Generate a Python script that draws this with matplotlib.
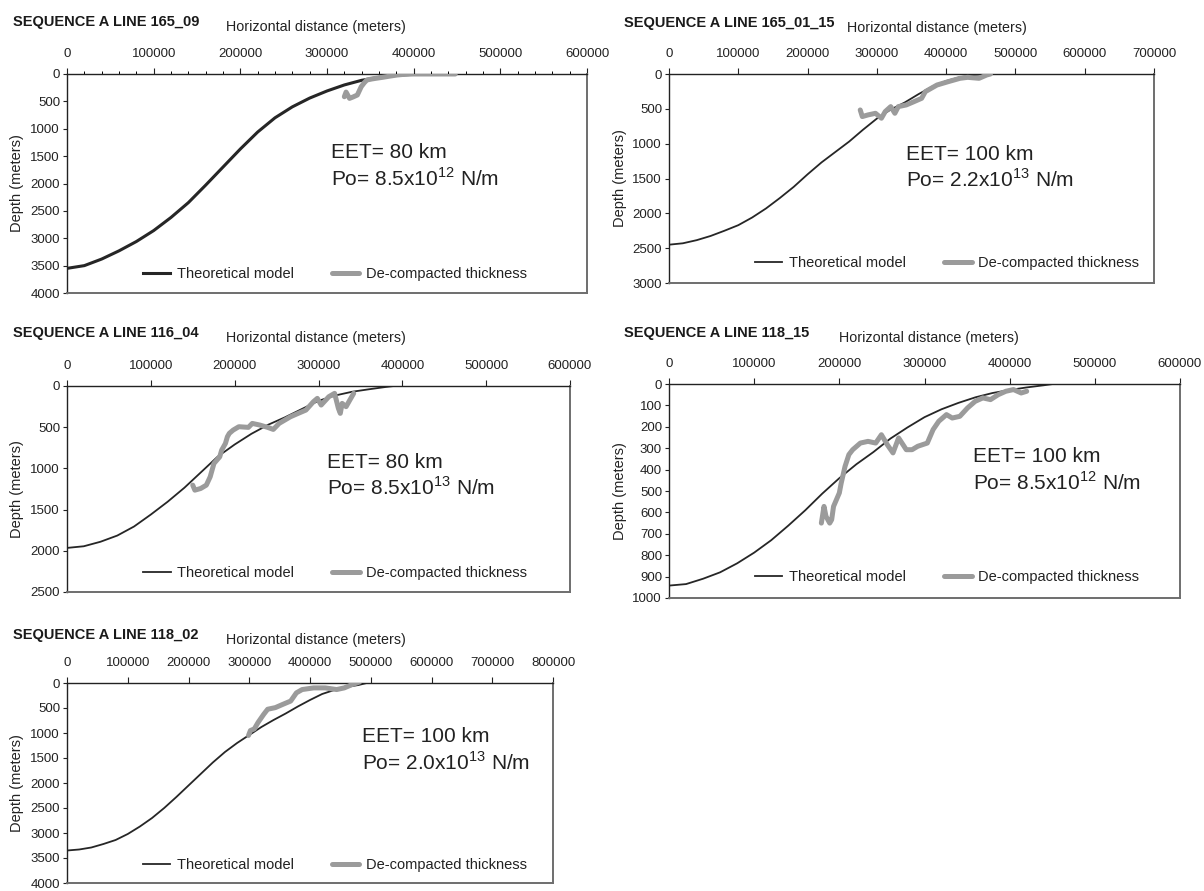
import numpy as np
import matplotlib
matplotlib.use("Agg")
import matplotlib.pyplot as plt
from matplotlib.ticker import MultipleLocator

plt.rcParams['font.family'] = ['Liberation Sans Narrow', 'Liberation Sans', 'DejaVu Sans']
plt.rcParams['mathtext.fontset'] = 'custom'
plt.rcParams['mathtext.rm'] = 'Liberation Sans'

NARROW = ['Liberation Sans Narrow', 'Liberation Sans', 'DejaVu Sans']
REGULAR = ['Liberation Sans', 'DejaVu Sans']

# ---- panel 1: line 165_09
p1_theo_x = [0, 20000, 40000, 60000, 80000, 100000, 120000, 140000, 160000, 180000, 200000,
             220000, 240000, 260000, 280000, 300000, 320000, 340000, 360000, 380000, 400000,
             420000, 440000]
p1_theo_d = [3550, 3500, 3380, 3230, 3060, 2860, 2620, 2350, 2030, 1700, 1370,
             1060, 800, 600, 440, 310, 200, 115, 60, 25, 5, -10, -15]
p1_obs_x = [320000, 322000, 326000, 330000, 335000, 339500, 343000, 346000, 352000, 358000,
            364000, 372000, 381000, 390000, 400000, 420000, 435000, 448000]
p1_obs_d = [415, 330, 445, 420, 384, 232, 160, 110, 90, 75, 61, 40, 18, 5, 0, 0, 0, 0]

# ---- panel 2: line 165_01_15
p2_theo_x = [0, 20000, 40000, 60000, 80000, 100000, 120000, 140000, 160000, 180000, 200000,
             220000, 240000, 260000, 280000, 300000, 320000, 340000, 360000, 380000, 400000,
             420000, 440000, 460000, 480000, 500000, 520000]
p2_theo_d = [2450, 2430, 2385, 2325, 2250, 2170, 2060, 1930, 1780, 1620, 1440,
             1270, 1120, 970, 800, 640, 510, 410, 290, 180, 100,
             45, 15, -5, -20, -28, -30]
p2_obs_x = [276000, 279000, 287000, 298000, 306600, 312000, 320000, 326000, 331000, 342500,
            353600, 364600, 370000, 386800, 403000, 420000, 431000, 447500, 458600, 464000]
p2_obs_d = [516, 611, 588, 564, 635, 540, 468, 564, 468, 444,
            397, 349, 253, 158, 110, 62, 48, 62, 14, 0]

# ---- panel 3: line 116_04
p3_theo_x = [0, 20000, 40000, 60000, 80000, 100000, 120000, 140000, 160000, 180000, 200000,
             220000, 240000, 260000, 280000, 300000, 320000, 340000, 360000, 380000, 400000,
             420000, 440000, 455000]
p3_theo_d = [1965, 1945, 1890, 1815, 1705, 1560, 1405, 1235, 1045, 855, 710,
             580, 470, 380, 280, 180, 115, 70, 40, 12, -12, -30, -40, -40]
p3_obs_x = [150000, 152500, 159400, 166200, 170800, 175300, 182200, 184500, 189000, 191300,
            193600, 198200, 205000, 216400, 221000, 230000, 239300, 246100, 253000, 266600,
            275800, 285000, 294000, 298600, 303200, 312300, 319200, 323700, 326000, 328200,
            332900, 337400, 342000]
p3_obs_d = [1203, 1264, 1244, 1203, 1102, 940, 859, 778, 697, 616,
            575, 535, 494, 502, 454, 474, 502, 527, 454, 373,
            332, 292, 190, 150, 231, 130, 89, 271, 332, 211,
            251, 170, 89]

# ---- panel 4: line 118_15
p4_theo_x = [0, 20000, 40000, 60000, 80000, 100000, 120000, 140000, 160000, 180000, 200000,
             220000, 240000, 260000, 280000, 300000, 320000, 340000, 360000, 380000, 400000,
             420000, 440000, 460000, 480000, 500000]
p4_theo_d = [942, 935, 910, 880, 838, 788, 730, 662, 590, 512, 440,
             375, 318, 255, 203, 155, 118, 88, 62, 42, 28, 16, 6, -5, -13, -17]
p4_obs_x = [178900, 182000, 184300, 188700, 191000, 193200, 200000, 202200, 206700, 211200,
            215700, 224700, 233700, 242700, 249400, 256200, 263000, 269600, 278600, 285400,
            292100, 303300, 310100, 316800, 325800, 332600, 341500, 350500, 359500, 368500,
            377500, 386500, 395500, 404500, 413500, 420000]
p4_obs_d = [650, 572, 618, 650, 634, 572, 509, 463, 385, 330,
            307, 276, 268, 276, 237, 283, 322, 252, 307, 307,
            291, 276, 213, 174, 143, 159, 151, 112, 81, 65,
            73, 50, 34, 26, 42, 34]

# ---- panel 5: line 118_02
p5_theo_x = [0, 20000, 40000, 60000, 80000, 100000, 120000, 140000, 160000, 180000, 200000,
             220000, 240000, 260000, 280000, 300000, 320000, 340000, 360000, 380000, 400000,
             420000, 440000, 460000, 480000, 500000, 520000]
p5_theo_d = [3350, 3330, 3290, 3220, 3140, 3020, 2870, 2700, 2500, 2280, 2050,
             1820, 1590, 1380, 1200, 1040, 880, 740, 610, 470, 340,
             220, 140, 80, 40, -20, -50]
p5_obs_x = [298800, 301900, 308300, 314600, 324000, 330300, 343000, 355500, 368200, 377600,
            387100, 406000, 425000, 443800, 456400, 469000, 481600]
p5_obs_d = [1049, 951, 918, 787, 623, 525, 492, 426, 361, 197,
            131, 98, 98, 131, 98, 33, -20]

W, H = 1204, 891

panels = [
    dict(title='SEQUENCE A LINE 165_09', box=(67, 74, 587, 293), xmax=600000, ymax=4000, ystep=500,
         theo=(p1_theo_x, p1_theo_d), obs=(p1_obs_x, p1_obs_d), theo_lw=2.2, minor=True,
         eet='EET= 80 km', po=r'Po= 8.5x10$^{12}$ N/m', txt=(331, 153), leg=(0.515, 0.087),
         title_xy=(13, 22), xlab_xy=(226, 27)),
    dict(title='SEQUENCE A LINE 165_01_15', box=(669, 74, 1154, 283), xmax=700000, ymax=3000, ystep=500,
         theo=(p2_theo_x, p2_theo_d), obs=(p2_obs_x, p2_obs_d), theo_lw=1.3, minor=False,
         eet='EET= 100 km', po=r'Po= 2.2x10$^{13}$ N/m', txt=(906, 154), leg=(0.573, 0.096),
         title_xy=(624, 23), xlab_xy=(847, 28)),
    dict(title='SEQUENCE A LINE 116_04', box=(67, 386, 570, 592), xmax=600000, ymax=2500, ystep=500,
         theo=(p3_theo_x, p3_theo_d), obs=(p3_obs_x, p3_obs_d), theo_lw=1.3, minor=False,
         eet='EET= 80 km', po=r'Po= 8.5x10$^{13}$ N/m', txt=(327, 462), leg=(0.533, 0.092),
         title_xy=(13, 333), xlab_xy=(226, 338)),
    dict(title='SEQUENCE A LINE 118_15', box=(669, 384, 1180, 598), xmax=600000, ymax=1000, ystep=100,
         theo=(p4_theo_x, p4_theo_d), obs=(p4_obs_x, p4_obs_d), theo_lw=1.3, minor=False,
         eet='EET= 100 km', po=r'Po= 8.5x10$^{12}$ N/m', txt=(973, 456), leg=(0.544, 0.098),
         title_xy=(624, 333), xlab_xy=(839, 338)),
    dict(title='SEQUENCE A LINE 118_02', box=(67, 683, 553, 883), xmax=800000, ymax=4000, ystep=500,
         theo=(p5_theo_x, p5_theo_d), obs=(p5_obs_x, p5_obs_d), theo_lw=1.3, minor=False,
         eet='EET= 100 km', po=r'Po= 2.0x10$^{13}$ N/m', txt=(362, 737), leg=(0.551, 0.088),
         title_xy=(13, 635), xlab_xy=(226, 640)),
]

fig = plt.figure(figsize=(W / 100, H / 100), dpi=100)
fig.patch.set_facecolor('white')

for p in panels:
    x0, y0, x1, y1 = p['box']
    ax = fig.add_axes([x0 / W, 1 - y1 / H, (x1 - x0) / W, (y1 - y0) / H])
    ax.plot(p['theo'][0], p['theo'][1], color='#262626', lw=p['theo_lw'], label='Theoretical model',
            zorder=2)
    ax.plot(p['obs'][0], p['obs'][1], color='#9b9b9b', lw=3.6, label='De-compacted thickness',
            solid_capstyle='round', solid_joinstyle='round', zorder=3)
    ax.set_xlim(0, p['xmax'])
    ax.set_ylim(p['ymax'], 0)
    ax.xaxis.tick_top()
    ax.xaxis.set_major_locator(MultipleLocator(100000))
    if p['minor']:
        ax.xaxis.set_minor_locator(MultipleLocator(20000))
    ax.yaxis.set_major_locator(MultipleLocator(p['ystep']))
    ax.tick_params(axis='x', which='major', direction='out', length=4, width=0.8, pad=6,
                   labelsize=9.5, colors='#222222')
    ax.tick_params(axis='x', which='minor', direction='out', length=2.5, width=0.7)
    ax.tick_params(axis='y', direction='out', length=3, width=0.8, pad=2, labelsize=9.5,
                   colors='#222222')
    for lab in ax.get_xticklabels() + ax.get_yticklabels():
        lab.set_family(NARROW)
    ax.spines['top'].set_color('#222222')
    ax.spines['left'].set_color('#222222')
    ax.spines['top'].set_linewidth(1.0)
    ax.spines['left'].set_linewidth(1.0)
    ax.spines['right'].set_color('#6e6e6e')
    ax.spines['bottom'].set_color('#6e6e6e')
    ax.spines['right'].set_linewidth(1.4)
    ax.spines['bottom'].set_linewidth(1.4)

    leg = ax.legend(loc='center', bbox_to_anchor=p['leg'], ncol=2, frameon=False,
                    handlelength=1.9, handletextpad=0.45, columnspacing=2.6,
                    prop={'family': NARROW, 'size': 10.5})
    for t in leg.get_texts():
        t.set_color('#222222')

    tx, ty = p['txt']
    fig.text(tx / W, 1 - ty / H, p['eet'], family=REGULAR, fontsize=15, color='#222222',
             ha='left', va='center')
    fig.text(tx / W, 1 - (ty + 26) / H, p['po'], family=REGULAR, fontsize=15, color='#222222',
             ha='left', va='center')

    fig.text(p['title_xy'][0] / W, 1 - p['title_xy'][1] / H, p['title'], family=NARROW,
             fontsize=10.5, fontweight='bold', color='#1a1a1a', ha='left', va='center')
    fig.text(p['xlab_xy'][0] / W, 1 - p['xlab_xy'][1] / H, 'Horizontal distance (meters)',
             family=NARROW, fontsize=10.3, color='#222222', ha='left', va='center')
    ylab_x = 17 if x0 < 600 else 620
    fig.text(ylab_x / W, 1 - (y0 + y1) / 2 / H, 'Depth (meters)', family=REGULAR, fontsize=10.5,
             color='#222222', rotation=90, ha='center', va='center')

fig.savefig('out.png', dpi=100, facecolor='white')
